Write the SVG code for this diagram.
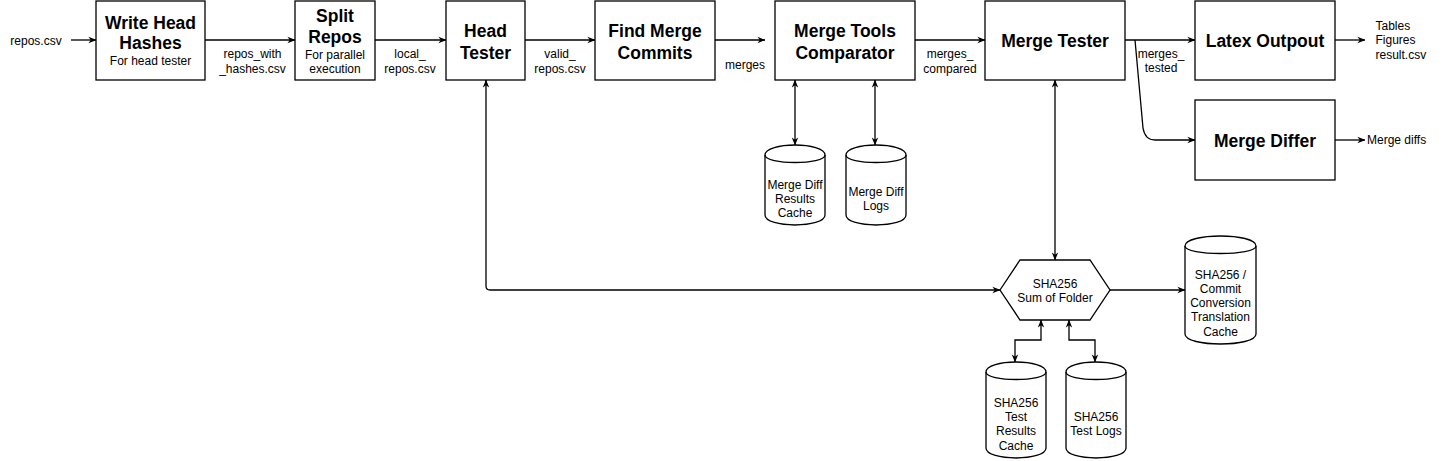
<svg xmlns="http://www.w3.org/2000/svg" width="1446" height="461" viewBox="0 0 1446 461">
<style>
.box{fill:#fff;stroke:#000;stroke-width:1.3}
.t{font-family:"Liberation Sans",Arial,Helvetica,sans-serif;fill:#000;text-anchor:middle}
.b{font-size:17.5px;font-weight:bold}
.s{font-size:12px}
.l{text-anchor:start}
.c{fill:none;stroke:#000;stroke-width:1.3}
</style>
<defs>
<marker id="ah" viewBox="0 0 10 10" refX="9.5" refY="5" markerWidth="8" markerHeight="8" markerUnits="userSpaceOnUse" orient="auto-start-reverse">
<path d="M0,1 L10,5 L0,9 L3,5 Z" fill="#000"/>
</marker>
</defs>
<rect width="1446" height="461" fill="#fff"/>
<g id="connectors">
<path class="c" d="M71,40 L96,40" marker-end="url(#ah)"/>
<path class="c" d="M205,40 L295,40" marker-end="url(#ah)"/>
<path class="c" d="M375,40 L446,40" marker-end="url(#ah)"/>
<path class="c" d="M525,40 L595,40" marker-end="url(#ah)"/>
<path class="c" d="M715,40 L765,40" marker-end="url(#ah)"/>
<path class="c" d="M915,40 L985,40" marker-end="url(#ah)"/>
<path class="c" d="M1125,40 L1195,40" marker-end="url(#ah)"/>
<path class="c" d="M1135,40 L1143,128 Q1145,140 1155,140 L1195,140" marker-end="url(#ah)"/>
<path class="c" d="M1335,40 L1365,40" marker-end="url(#ah)"/>
<path class="c" d="M1335,140 L1365,140" marker-end="url(#ah)"/>
<path class="c" d="M795,80 L795,145" marker-start="url(#ah)" marker-end="url(#ah)"/>
<path class="c" d="M875,80 L875,145" marker-start="url(#ah)" marker-end="url(#ah)"/>
<path class="c" d="M486,80 L486,286 Q486,290 490,290 L1000,290" marker-start="url(#ah)" marker-end="url(#ah)"/>
<path class="c" d="M1055,80 L1055,260" marker-start="url(#ah)" marker-end="url(#ah)"/>
<path class="c" d="M1110,290 L1185,290" marker-end="url(#ah)"/>
<path class="c" d="M1041,320 L1041,340 L1015,340 L1015,362" marker-start="url(#ah)" marker-end="url(#ah)"/>
<path class="c" d="M1069,320 L1069,340 L1095,340 L1095,362" marker-start="url(#ah)" marker-end="url(#ah)"/>
</g>
<g id="labels">
<text class="t s" x="36" y="45">repos.csv</text>
<text class="t s" x="252.5" y="57.5">repos_with</text>
<text class="t s" x="252.5" y="72.5">_hashes.csv</text>
<text class="t s" x="410" y="57.5">local_</text>
<text class="t s" x="410" y="72.5">repos.csv</text>
<text class="t s" x="560" y="57.5">valid_</text>
<text class="t s" x="560" y="72.5">repos.csv</text>
<text class="t s" x="745" y="69.3">merges</text>
<text class="t s" x="950" y="57.5">merges_</text>
<text class="t s" x="950" y="72.5">compared</text>
<text class="t s" x="1161" y="57.6">merges_</text>
<text class="t s" x="1161" y="72">tested</text>
<text class="t s l" x="1375.5" y="30">Tables</text>
<text class="t s l" x="1375.5" y="44.3">Figures</text>
<text class="t s l" x="1375.5" y="58.6">result.csv</text>
<text class="t s l" x="1367" y="144.3">Merge diffs</text>
</g>
<g id="write-head-hashes">
<rect class="box" x="96" y="1" width="109" height="79"/>
<text class="t b" x="150.5" y="29">Write Head</text>
<text class="t b" x="150.5" y="49">Hashes</text>
<text class="t s" x="150.5" y="65.3">For head tester</text>
</g>
<g id="split-repos">
<rect class="box" x="295" y="1" width="80" height="79"/>
<text class="t b" x="335" y="22">Split</text>
<text class="t b" x="335" y="43">Repos</text>
<text class="t s" x="335" y="59">For parallel</text>
<text class="t s" x="335" y="72.5">execution</text>
</g>
<g id="head-tester">
<rect class="box" x="446" y="1" width="79" height="79"/>
<text class="t b" x="485.5" y="37">Head</text>
<text class="t b" x="485.5" y="58.5">Tester</text>
</g>
<g id="find-merge-commits">
<rect class="box" x="595" y="1" width="120" height="79"/>
<text class="t b" x="655" y="37">Find Merge</text>
<text class="t b" x="655" y="58.5">Commits</text>
</g>
<g id="merge-tools-comparator">
<rect class="box" x="775" y="1" width="140" height="79"/>
<text class="t b" x="845" y="37">Merge Tools</text>
<text class="t b" x="845" y="58.5">Comparator</text>
</g>
<g id="merge-tester">
<rect class="box" x="985" y="1" width="140" height="79"/>
<text class="t b" x="1055" y="47">Merge Tester</text>
</g>
<g id="latex-outpout">
<rect class="box" x="1195" y="1" width="140" height="79"/>
<text class="t b" x="1265" y="47">Latex Outpout</text>
</g>
<g id="merge-differ">
<rect class="box" x="1195" y="100" width="140" height="80"/>
<text class="t b" x="1265" y="147">Merge Differ</text>
</g>
<g id="merge-diff-results-cache">
<path class="box" d="M765,155 C765,141.67 825,141.67 825,155 L825,215 C825,228.33 765,228.33 765,215 Z"/>
<path class="c" d="M765,155 C765,165 825,165 825,155"/>
<text class="t s" x="795" y="189.3">Merge Diff</text>
<text class="t s" x="795" y="202.6">Results</text>
<text class="t s" x="795" y="216.6">Cache</text>
</g>
<g id="merge-diff-logs">
<path class="box" d="M846,155 C846,141.67 906,141.67 906,155 L906,215 C906,228.33 846,228.33 846,215 Z"/>
<path class="c" d="M846,155 C846,165 906,165 906,155"/>
<text class="t s" x="876" y="195.5">Merge Diff</text>
<text class="t s" x="876" y="209.8">Logs</text>
</g>
<g id="sha256-sum-of-folder">
<polygon class="box" points="1000,290 1020,260 1090,260 1110,290 1090,320 1020,320"/>
<text class="t s" x="1055" y="287.6">SHA256</text>
<text class="t s" x="1055" y="302">Sum of Folder</text>
</g>
<g id="sha256-commit-cache">
<path class="box" d="M1185,246 C1185,232.67 1256,232.67 1256,246 L1256,334 C1256,347.33 1185,347.33 1185,334 Z"/>
<path class="c" d="M1185,246 C1185,256 1256,256 1256,246"/>
<text class="t s" x="1220.5" y="278.5">SHA256 /</text>
<text class="t s" x="1220.5" y="292.8">Commit</text>
<text class="t s" x="1220.5" y="307.1">Conversion</text>
<text class="t s" x="1220.5" y="321.4">Translation</text>
<text class="t s" x="1220.5" y="335.7">Cache</text>
</g>
<g id="sha256-test-results-cache">
<path class="box" d="M986,372 C986,358.67 1046,358.67 1046,372 L1046,448 C1046,461.33 986,461.33 986,448 Z"/>
<path class="c" d="M986,372 C986,382 1046,382 1046,372"/>
<text class="t s" x="1016" y="407">SHA256</text>
<text class="t s" x="1016" y="421">Test</text>
<text class="t s" x="1016" y="435.3">Results</text>
<text class="t s" x="1016" y="449.5">Cache</text>
</g>
<g id="sha256-test-logs">
<path class="box" d="M1066,372 C1066,358.67 1126,358.67 1126,372 L1126,448 C1126,461.33 1066,461.33 1066,448 Z"/>
<path class="c" d="M1066,372 C1066,382 1126,382 1126,372"/>
<text class="t s" x="1096" y="420.5">SHA256</text>
<text class="t s" x="1096" y="435">Test Logs</text>
</g>
</svg>
